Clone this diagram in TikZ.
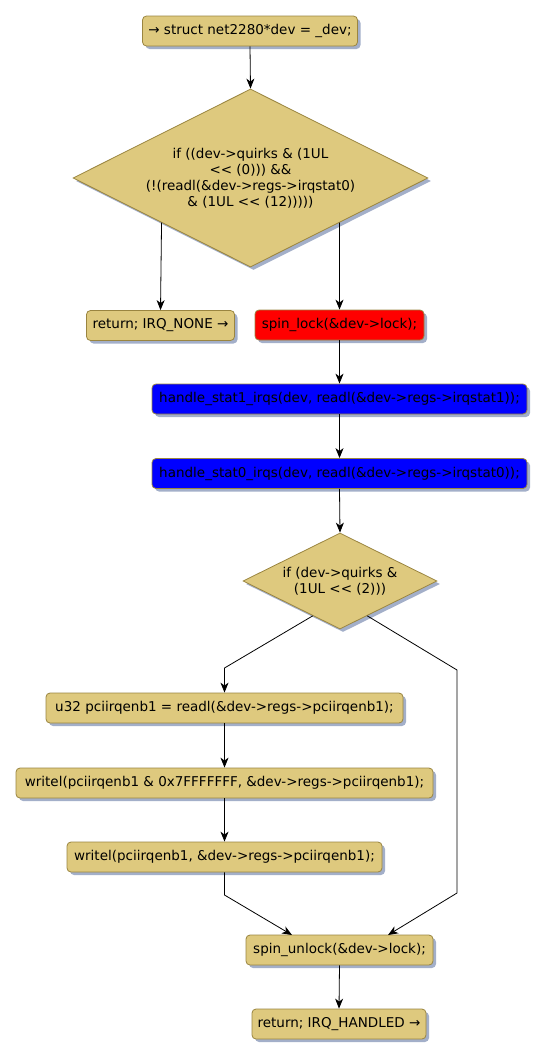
\documentclass[tikz,border=0pt]{standalone}
\usepackage{fontspec}
\setmainfont{DejaVu Sans}
\usetikzlibrary{shapes.geometric,shadows,arrows.meta,calc}
\definecolor{boxfill}{HTML}{DEC97E}
\definecolor{boxdraw}{HTML}{9A8540}
\definecolor{shadowc}{HTML}{A3AFC9}
\begin{document}
\begin{tikzpicture}[x=1pt,y=-1pt,
  base/.style={draw=boxdraw, line width=0.8pt, font=\fontsize{13.5}{16}\selectfont,
    copy shadow={shadow xshift=3pt, shadow yshift=-3pt, fill=shadowc, draw=none}},
  box/.style={base, rectangle, rounded corners=4pt, fill=boxfill, minimum height=30pt, inner sep=2pt},
  redbox/.style={box, fill=red},
  bluebox/.style={box, fill=blue},
  dec/.style={base, diamond, fill=boxfill, inner sep=0pt, aspect=2, align=center},
  conn/.style={draw=black, line width=0.8pt},
  arr/.style={conn, -{Stealth[length=10pt,width=8pt,inset=3pt]}}
]
\useasboundingbox (0,0) rectangle (546,1058);

\node[box, minimum width=215pt] (start) at (250,31) {→ struct net2280*dev = \_dev;};
\node[dec, minimum width=355pt, minimum height=178pt] (d1) at (250.5,178)
  {if ((dev->quirks \& (1UL\\<{}< (0))) \&\&\\(!(readl(\&dev->regs->irqstat0)\\\& (1UL <{}< (12)))))};
\node[box, minimum width=148pt] (ret) at (160.5,325.5) {return; IRQ\_NONE →};
\node[redbox, minimum width=169pt] (lock) at (339.5,325) {spin\_lock(\&dev->lock);};
\node[bluebox, minimum width=375pt] (s1) at (339.5,399) {handle\_stat1\_irqs(dev, readl(\&dev->regs->irqstat1));};
\node[bluebox, minimum width=375pt] (s0) at (339.5,473.5) {handle\_stat0\_irqs(dev, readl(\&dev->regs->irqstat0));};
\node[dec, minimum width=194pt, minimum height=96pt] (d2) at (340,581)
  {if (dev->quirks \&\\(1UL <{}< (2)))};
\node[box, minimum width=357pt] (u32) at (224.5,708) {u32 pciirqenb1 = readl(\&dev->regs->pciirqenb1);};
\node[box, minimum width=417pt] (w1) at (224.5,783) {writel(pciirqenb1 \& 0x7FFFFFFF, \&dev->regs->pciirqenb1);};
\node[box, minimum width=315pt] (w2) at (224.5,857) {writel(pciirqenb1, \&dev->regs->pciirqenb1);};
\node[box, minimum width=187pt] (unlock) at (339.5,950) {spin\_unlock(\&dev->lock);};
\node[box, minimum width=174pt] (handled) at (339,1024) {return; IRQ\_HANDLED →};

\coordinate (d2l) at ($(d2.south)!0.28!(d2.west)$);
\coordinate (d2r) at ($(d2.south)!0.28!(d2.east)$);
\coordinate (jl) at (224.5,668);
\coordinate (jr) at (457,670);
\coordinate (jr2) at (457,893);
\coordinate (jb) at (224.5,895);
\coordinate (ul) at (292,935);
\coordinate (ur) at (388,935);

\draw[arr] (start.south) -- (d1.north);
\draw[arr] (d1.south west) -- (ret.north);
\draw[arr] (d1.south east) -- (lock.north);
\draw[arr] (lock.south) -- (s1.north);
\draw[arr] (s1.south) -- (s0.north);
\draw[arr] (s0.south) -- (d2.north);
\draw[arr] (d2l) -- (jl) -- (u32.north);
\draw[arr] (u32.south) -- (w1.north);
\draw[arr] (w1.south) -- (w2.north);
\draw[arr] (w2.south) -- (jb) -- (ul);
\draw[arr] (d2r) -- (jr) -- (jr2) -- (ur);
\draw[arr] (unlock.south) -- (handled.north);
\end{tikzpicture}
\end{document}
